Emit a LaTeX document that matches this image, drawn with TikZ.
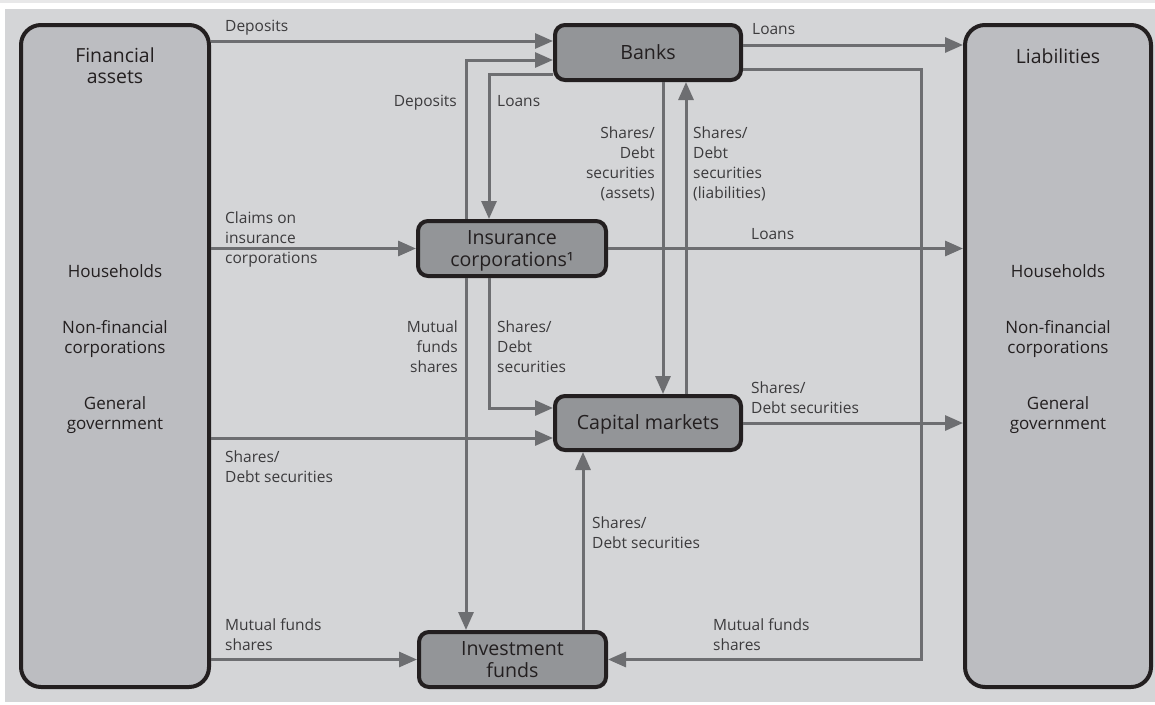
\documentclass[tikz,border=0pt]{standalone}
\usepackage{fontspec}
\setmainfont{Open Sans}
\usetikzlibrary{arrows.meta}
\definecolor{panelc}{RGB}{212,213,215}
\definecolor{bigfill}{RGB}{188,189,193}
\definecolor{smallfill}{RGB}{147,149,152}
\definecolor{edgec}{RGB}{35,31,32}
\definecolor{linec}{RGB}{109,110,113}
\definecolor{labelc}{RGB}{60,59,61}
\definecolor{stripc}{RGB}{232,232,233}
\tikzset{
  bigbox/.style={draw=edgec, line width=4pt, fill=bigfill, rounded corners=20pt, inner sep=0pt},
  smallbox/.style={draw=edgec, line width=4pt, fill=smallfill, rounded corners=10pt, inner sep=0pt,
    text=edgec, font=\fontsize{19.6}{22}\selectfont, align=center, text height=13.8pt, text depth=0pt},
  twoline/.style={text height=35.8pt, text depth=0pt},
  heading/.style={inner sep=0pt, anchor=base, text=edgec, font=\fontsize{19.4}{20.5}\selectfont, align=center},
  sector/.style={inner sep=0pt, anchor=base, text=edgec, font=\fontsize{17}{20}\selectfont, align=center},
  lbl/.style={inner sep=0pt, anchor=base west, text=labelc, font=\fontsize{15.5}{20}\selectfont, align=left},
  lblr/.style={inner sep=0pt, anchor=base east, text=labelc, font=\fontsize{15.5}{20}\selectfont, align=right},
  arr/.style={draw=linec, line width=3pt, -{Triangle[length=18pt,width=15pt]}}
}
\begin{document}
\begin{tikzpicture}[x=1pt,y=-1pt]
\useasboundingbox (0,0) rectangle (1155,704);
\fill[white] (0,0) rectangle (1155,704);
\fill[stripc] (0,0) rectangle (1155,3);
\fill[panelc] (5,9) rectangle (1155,702);

% big boxes
\node[bigbox, minimum width=188pt, minimum height=662pt] (fa) at (115,356) {};
\node[bigbox, minimum width=186pt, minimum height=662pt] (liab) at (1058,356) {};
\node[heading] (faT) at (115,83) {Financial\\assets};
\node[heading] (liT) at (1058,63) {Liabilities};
\node[sector] (fa1) at (115,277) {Households};
\node[sector] (fa2) at (115,353) {Non-financial\\corporations};
\node[sector] (fa3) at (115,429) {General\\government};
\node[sector] (li1) at (1058,277) {Households};
\node[sector] (li2) at (1058,353) {Non-financial\\corporations};
\node[sector] (li3) at (1058,429) {General\\government};

% small boxes
\node[smallbox, minimum width=186pt, minimum height=55pt] (banks) at (648,52.5) {Banks};
\node[smallbox, twoline, minimum width=188pt, minimum height=55pt] (ins) at (512,248.5) {Insurance\\corporations¹};
\node[smallbox, minimum width=186pt, minimum height=54pt] (cap) at (648,423) {Capital markets};
\node[smallbox, twoline, minimum width=187pt, minimum height=55pt] (inv) at (512.5,659.5) {Investment\\funds};

% helper coordinates
\coordinate (yDep) at (0,41);
\coordinate (yLA) at (0,45);
\coordinate (yIDep) at (0,60);
\coordinate (yMFb) at (0,69);
\coordinate (yILoan) at (0,74);
\coordinate (yCapIns) at (0,408);
\coordinate (ySD) at (0,438);
\coordinate (xA) at (466,0);
\coordinate (xB) at (489,0);
\coordinate (xC) at (663,0);
\coordinate (xD) at (686,0);
\coordinate (xE) at (921,0);
\coordinate (xF) at (583,0);

% connectors
\draw[arr] (fa.east |- yDep) -- (banks.west |- yDep);
\draw[arr] (ins.north -| xA) |- (banks.west |- yIDep);
\draw[arr] (banks.west |- yILoan) -| (ins.north -| xB);
\draw[arr] (banks.south -| xC) -- (cap.north -| xC);
\draw[arr] (cap.north -| xD) -- (banks.south -| xD);
\draw[arr] (banks.east |- yLA) -- (liab.west |- yLA);
\draw[arr] (banks.east |- yMFb) -| (inv.east -| xE) -- (inv.east);
\draw[arr] (fa.east |- ins.west) -- (ins.west);
\draw[arr] (ins.east) -- (liab.west |- ins.east);
\draw[arr] (ins.south -| xA) -- (inv.north -| xA);
\draw[arr] (ins.south -| xB) |- (cap.west |- yCapIns);
\draw[arr] (fa.east |- ySD) -- (cap.west |- ySD);
\draw[arr] (cap.east) -- (liab.west |- cap.east);
\draw[arr] (inv.north -| xF) -- (cap.south -| xF);
\draw[arr] (fa.east |- inv.west) -- (inv.west);

% labels (anchored at last line's baseline)
\node[lbl] (l1) at (225,31) {Deposits};
\node[lbl] (l2) at (225,263) {Claims on\\insurance\\corporations};
\node[lbl] (l3) at (225,482) {Shares/\\Debt securities};
\node[lbl] (l4) at (225,650) {Mutual funds\\shares};
\node[lblr] (l5) at (457,106) {Deposits};
\node[lbl] (l6) at (497,106) {Loans};
\node[lblr] (l7) at (655,198) {Shares/\\Debt\\securities\\(assets)};
\node[lbl] (l8) at (693,198) {Shares/\\Debt\\securities\\(liabilities)};
\node[lbl] (l9) at (752,34) {Loans};
\node[lbl] (l10) at (751,239) {Loans};
\node[lbl] (l11) at (751,413) {Shares/\\Debt securities};
\node[lblr] (l12) at (458,372) {Mutual\\funds\\shares};
\node[lbl] (l13) at (497,372) {Shares/\\Debt\\securities};
\node[lbl] (l14) at (592,548) {Shares/\\Debt securities};
\node[lbl] (l15) at (713,650) {Mutual funds\\shares};
\end{tikzpicture}
\end{document}
